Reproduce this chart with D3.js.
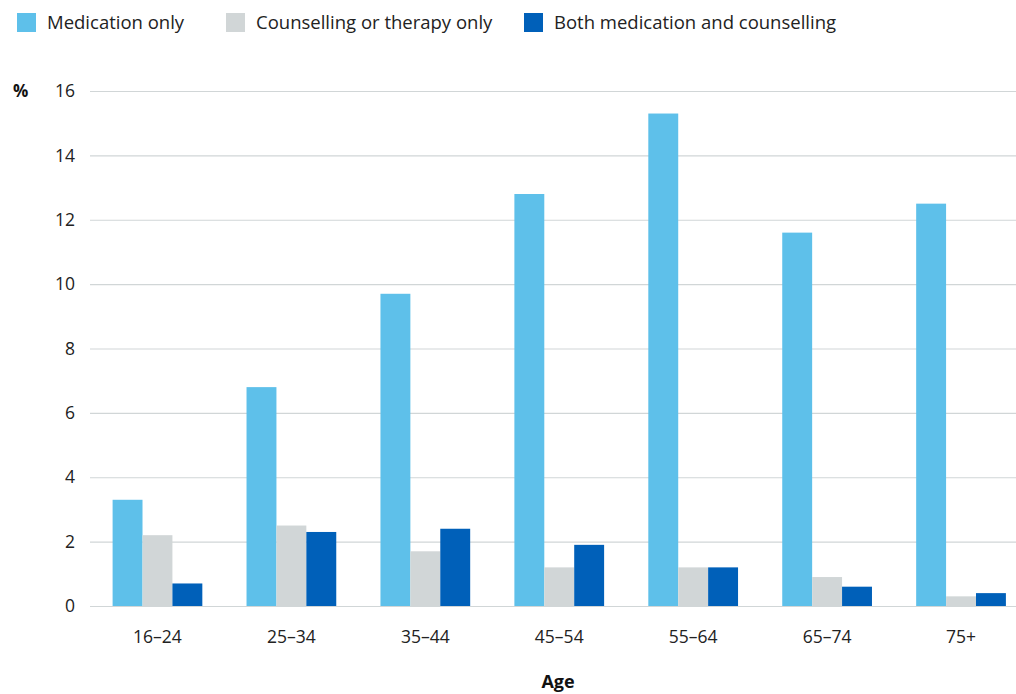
<!DOCTYPE html>
<html><head><meta charset="utf-8">
<script src="https://cdn.jsdelivr.net/npm/d3@7/dist/d3.min.js"></script>
<style>body{margin:0;background:#fff;}svg{display:block;font-family:"Open Sans",sans-serif;}</style>
</head><body><svg id="c" width="1016" height="694"></svg>
<script>
const categories = ["16–24","25–34","35–44","45–54","55–64","65–74","75+"];
const seriesNames = ["Medication only","Counselling or therapy only","Both medication and counselling"];
const medication = [3.3,6.8,9.7,12.8,15.3,11.6,12.5];
const counselling = [2.2,2.5,1.7,1.2,1.2,0.9,0.3];
const both = [0.7,2.3,2.4,1.9,1.2,0.6,0.4];
const yTicks = [0,2,4,6,8,10,12,14,16];
const colors = ["#5ec0ea","#d1d6d7","#0060b9"];

const series = [medication, counselling, both];
const svg = d3.select("#c");
const x = d3.scaleBand().domain(categories).range([90.5,1028]).paddingInner(0.33).paddingOuter(0.165);
const xs = d3.scaleBand().domain(d3.range(3)).range([0,x.bandwidth()]);
const y = d3.scaleLinear().domain([0,16]).range([606,91]);

// grid
svg.append("g").selectAll("line").data(yTicks).join("line")
  .attr("x1",90).attr("x2",1016).attr("y1",d=>y(d)+0.5).attr("y2",d=>y(d)+0.5)
  .attr("stroke","#d1d6d7").attr("stroke-width",1.2);

// y labels
svg.append("g").selectAll("text").data(yTicks).join("text")
  .attr("x",75).attr("y",d=>y(d)).attr("dy","0.35em").attr("text-anchor","end")
  .attr("font-size",17.5).attr("fill","#222").text(d=>d);
svg.append("text").attr("x",13).attr("y",91).attr("dy","0.35em").attr("font-size",17).attr("font-weight","bold").attr("fill","#111").text("%");

// bars
series.forEach((s,i)=>{
  svg.append("g").selectAll("rect").data(s).join("rect")
    .attr("x",(d,j)=>x(categories[j])+xs(i)).attr("width",xs.bandwidth())
    .attr("y",d=>y(d)).attr("height",d=>y(0)-y(d)).attr("fill",colors[i]);
});

// x labels
svg.append("g").selectAll("text").data(categories).join("text")
  .attr("x",d=>x(d)+x.bandwidth()/2).attr("y",643).attr("text-anchor","middle")
  .attr("font-size",17.5).attr("fill","#222").text(d=>d);
svg.append("text").attr("x",558).attr("y",688).attr("text-anchor","middle").attr("font-size",18).attr("font-weight","bold").attr("fill","#111").text("Age");

// legend
const legX = [17,226,524];
seriesNames.forEach((n,i)=>{
  svg.append("rect").attr("x",legX[i]).attr("y",13).attr("width",19).attr("height",19).attr("fill",colors[i]);
  svg.append("text").attr("x",legX[i]+30).attr("y",22.5).attr("dy","0.35em").attr("font-size",18.5).attr("fill","#222").text(n);
});
</script></body></html>
